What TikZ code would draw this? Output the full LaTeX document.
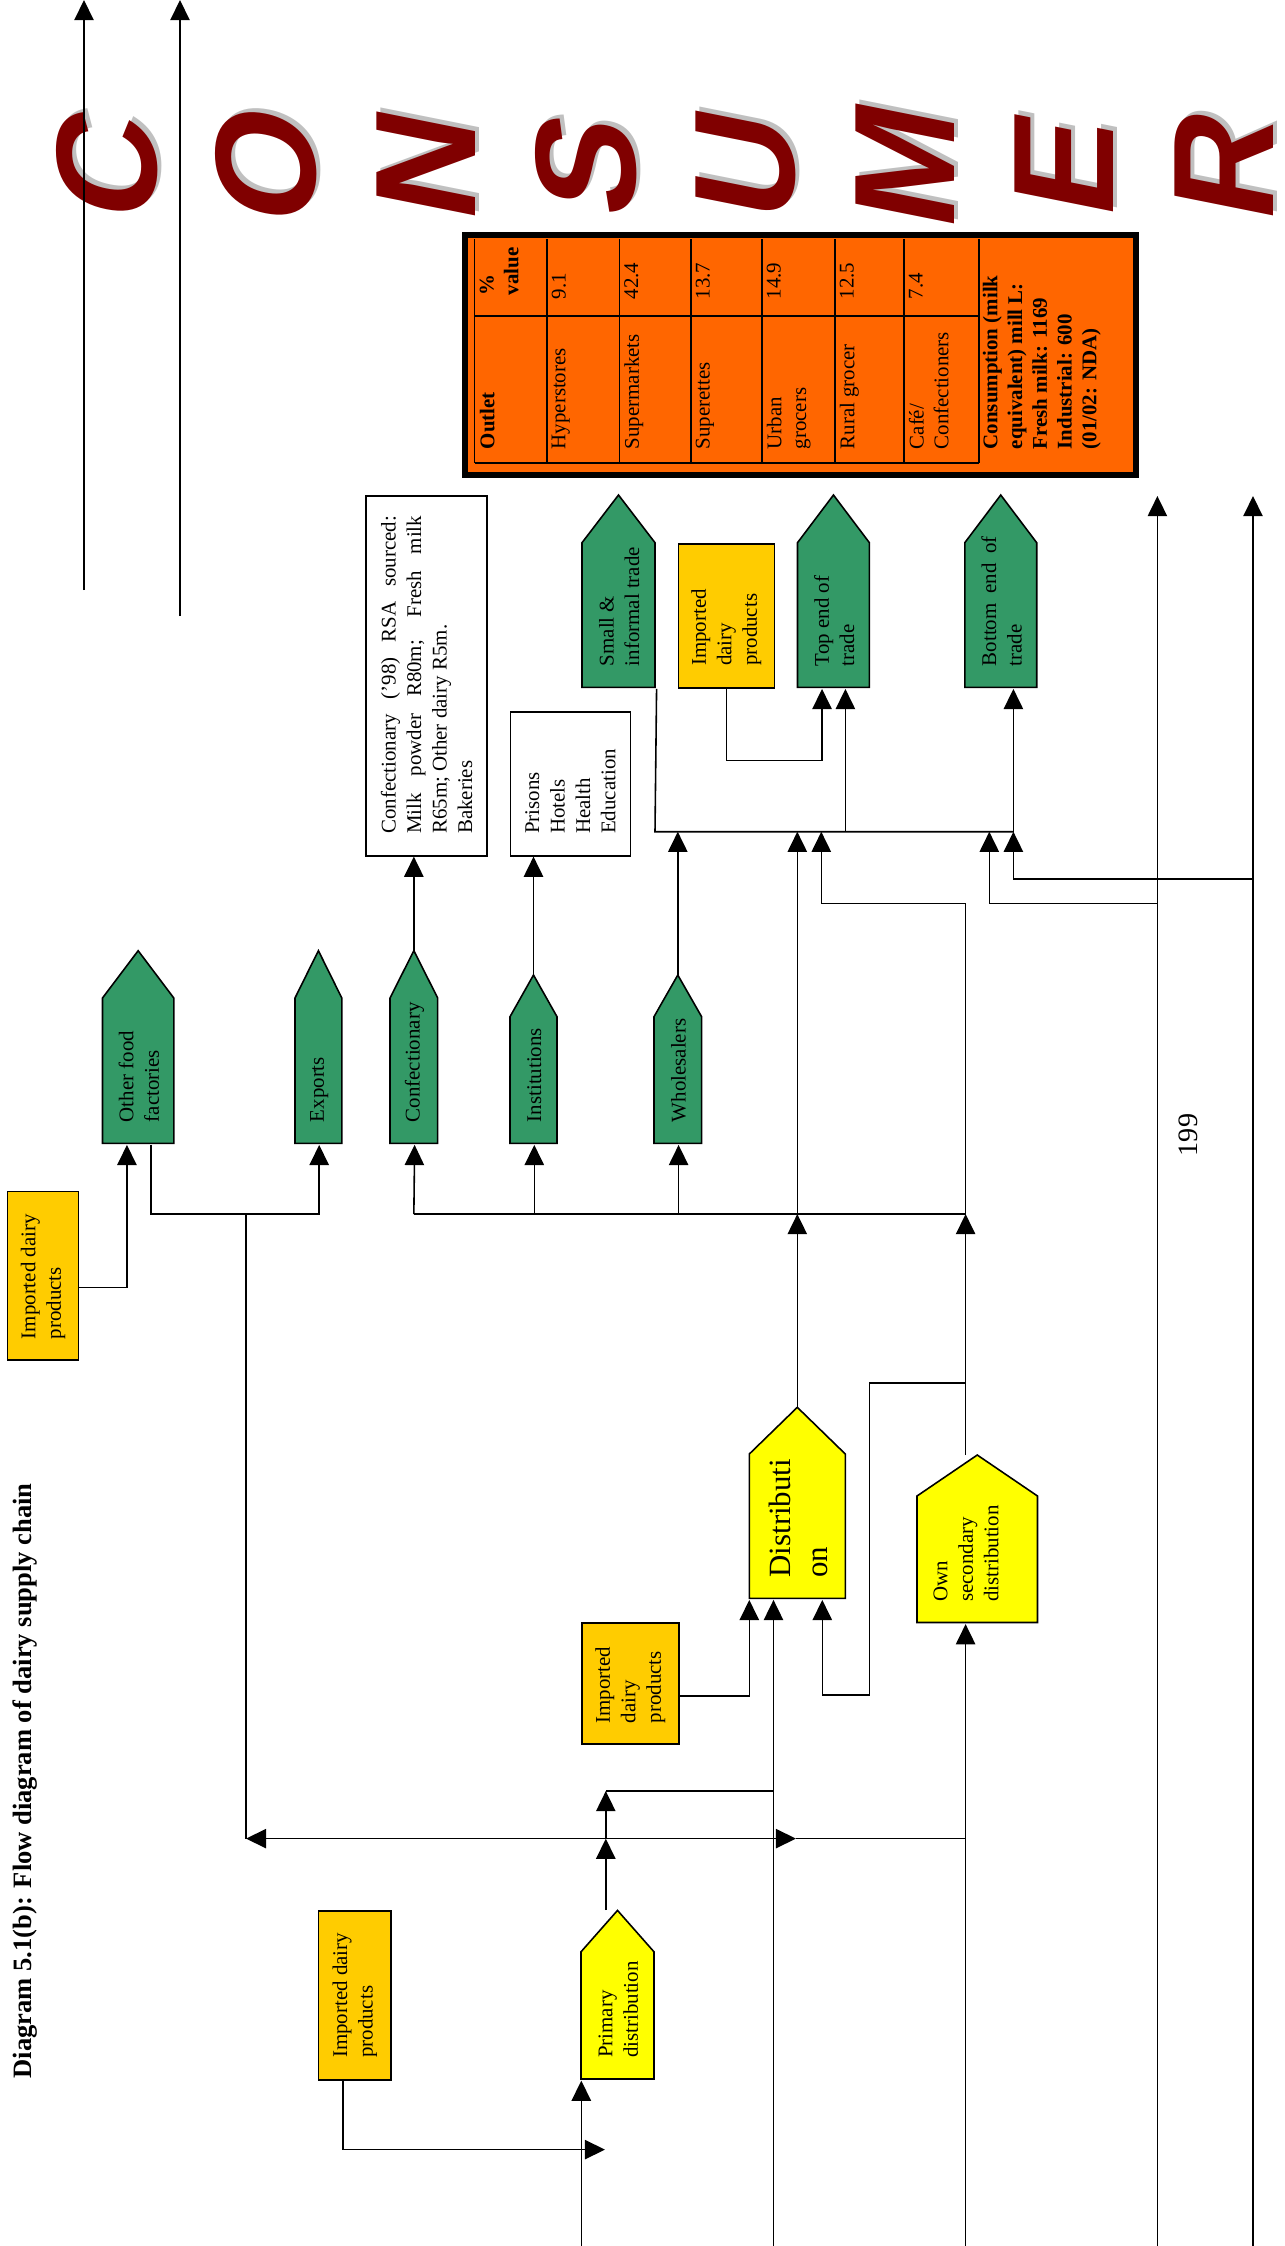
\documentclass[tikz,border=0pt]{standalone}
\usepackage{fontspec}
\setmainfont{Liberation Serif}
\newfontfamily\wordartfont{Liberation Sans}
\usetikzlibrary{arrows.meta,calc}

\definecolor{tradegreen}{HTML}{339966}
\definecolor{outletorange}{HTML}{FF6600}
\definecolor{importgold}{HTML}{FFCC00}
\definecolor{distyellow}{HTML}{FFFF00}
\definecolor{wordred}{HTML}{800000}
\definecolor{wordgrey}{HTML}{C0C0C0}

\newcommand\roofbox[7]{%
  \path[#7] (#2,#6) -- (#2,#5) -- ({(#2+#3)/2},#4) -- (#3,#5) -- (#3,#6) -- cycle;
  \node[inner sep=0pt,minimum width={(#3-#2)*0.02cm},minimum height={(#6-#5)*0.02cm},anchor=north west] (#1) at (#2,#5) {};
  \coordinate (#1-tip) at ({(#2+#3)/2},#4);
}
\newcommand\flatbox[6]{%
  \node[#6,inner sep=0pt,minimum width={(#4-#2)*0.02cm},minimum height={(#5-#3)*0.02cm},anchor=north west] (#1) at (#2,#3) {};
}

\begin{document}
\begin{tikzpicture}[x=0.02cm,y=-0.02cm,line width=0.9pt,>={Triangle[length=11.5pt,width=11pt]},
  greenroof/.style={draw,fill=tradegreen},
  yellowroof/.style={draw,fill=distyellow},
  importbox/.style={draw,fill=importgold},
  notebox/.style={draw,fill=white},
  lbl/.style={rotate=90,inner sep=0pt,align=left,anchor=west,font=\fontsize{11.9}{14.5}\selectfont},
  cell/.style={rotate=90,inner sep=0pt,align=left,anchor=north west,font=\fontsize{11.9}{14.1}\selectfont},
  letter/.style={yslant=-0.2,rotate=90,inner sep=0pt,font=\wordartfont\bfseries\fontsize{81.6}{82}\selectfont}]
  \useasboundingbox (0,0) rectangle (1285,2246);

  \foreach \ch [count=\i from 0] in {C,O,N,S,U,M,E,R}{
    \node[letter,text=wordgrey] (shade\i) at ({111+159.6*\i},160) {\ch};
    \node[letter,text=wordred] (word\i) at ({107+159.6*\i},164) {\ch};
  }

  \coordinate (leftA) at (84,590);
  \coordinate (leftA-end) at (84,0);
  \coordinate (leftB) at (180,616);
  \coordinate (leftB-end) at (180,0);
  \draw[->] (leftA) -- (leftA-end);
  \draw[->] (leftB) -- (leftB-end);

  \flatbox{outlets}{462}{232}{1133}{472}{draw,fill=outletorange,line width=3.4pt}
  \foreach \x in {474.8,547,619.5,691,762,835,904,979} \draw[line width=0.6pt] (\x,239) -- (\x,463);
  \draw[line width=0.6pt] (474.8,316) -- (979,316) (474.8,463) -- (979,463);
  \node[cell,font=\fontsize{11.9}{14.1}\selectfont\bfseries] (outlet-head) at (479,450) {Outlet};
  \node[cell,font=\fontsize{11.9}{14.1}\selectfont\bfseries] (value-head) at (479,296) {\%\\value};
  \foreach \x/\outlet/\val [count=\i] in {547/Hyperstores/9.1, 619.5/Supermarkets/42.4, 691/Superettes/13.7, 762/{Urban\\grocers}/14.9, 835/Rural grocer/12.5, 904/{Café/\\Confectioners}/7.4}{
    \node[cell] (outlet\i) at (\x+4,450) {\outlet};
    \node[cell] (value\i) at (\x+4,300) {\val};
  }
  \node[cell,font=\fontsize{11.9}{14.1}\selectfont\bfseries] (usage) at (982,450) {Consumption (milk\\equivalent) mill L:\\Fresh milk: 1169\\Industrial: 600\\(01/02: NDA)};

  \roofbox{smalltrade}{582}{655}{495}{542.7}{687.3}{greenroof}
  \flatbox{impT}{677.5}{543}{773.5}{687}{importbox}
  \roofbox{topend}{797.5}{869.4}{495}{542.7}{687.3}{greenroof}
  \roofbox{botend}{964.8}{1036.7}{495}{542.7}{687.3}{greenroof}
  \flatbox{confnote}{365.3}{495}{486.2}{855}{notebox}
  \flatbox{prisons}{509.7}{711}{629.6}{855}{notebox}
  \node[lbl] (smalltrade-txt) at ($(smalltrade.south)+(0,-22)$) {Small \&\\informal trade};
  \node[lbl] (impT-txt) at ($(impT.south)+(0,-22)$) {Imported\\dairy\\products};
  \node[lbl] (topend-txt) at ($(topend.south)+(0,-22)$) {Top end of\\trade};
  \node[lbl,text width=2.6cm,align=justify] (botend-txt) at ($(botend.south)+(0,-22)$) {Bottom end of trade};
  \node[lbl,text width=6.36cm,align=justify] (confnote-txt) at ($(confnote.south)+(0,-22)$) {Confectionary (’98) RSA sourced: Milk powder R80m; Fresh milk R65m; Other dairy R5m.\\Bakeries};
  \node[lbl] (prisons-txt) at ($(prisons.south)+(0,-22)$) {Prisons\\Hotels\\Health\\Education};

  \roofbox{ofood}{102.5}{173.8}{950.7}{998}{1143.3}{greenroof}
  \roofbox{exports}{295}{341.8}{950.7}{998}{1143.3}{greenroof}
  \roofbox{confy}{390}{437.7}{950.7}{998}{1143.3}{greenroof}
  \roofbox{inst}{510}{557}{975}{1016.7}{1143.3}{greenroof}
  \roofbox{whole}{654}{701.6}{975}{1016.7}{1143.3}{greenroof}
  \flatbox{impL}{6.6}{1190.7}{77.9}{1359.3}{importbox}
  \node[lbl] (ofood-txt) at ($(ofood.south)+(0,-22)$) {Other food\\factories};
  \node[lbl] (exports-txt) at ($(exports.south)+(0,-22)$) {Exports};
  \node[lbl] (confy-txt) at ($(confy.south)+(0,-22)$) {Confectionary};
  \node[lbl] (inst-txt) at ($(inst.south)+(0,-22)$) {Institutions};
  \node[lbl] (whole-txt) at ($(whole.south)+(0,-22)$) {Wholesalers};
  \node[lbl] (impL-txt) at ($(impL.south)+(0,-21)$) {Imported dairy\\products};

  \roofbox{dist}{749.3}{845.3}{1407.3}{1454}{1598.3}{yellowroof}
  \roofbox{own}{917}{1037.5}{1455}{1496}{1622.5}{yellowroof}
  \roofbox{prim}{581}{654}{1910.4}{1951.8}{2079}{yellowroof}
  \flatbox{impM}{581}{1622}{678}{1743}{importbox}
  \flatbox{impB}{317.9}{1910}{390.2}{2079}{importbox}
  \node[lbl,font=\fontsize{17.6}{21}\selectfont] (dist-txt) at ($(dist.south)+(0,-21.6)$) {Distributi\\on};
  \node[lbl] (own-txt) at ($(own.south)+(-12,-21.5)$) {Own\\secondary\\distribution};
  \node[lbl] (prim-txt) at ($(prim.south)+(0,-22)$) {Primary\\distribution};
  \node[lbl] (impM-txt) at ($(impM.south)+(0,-20.5)$) {Imported\\dairy\\products};
  \node[lbl] (impB-txt) at ($(impB.south)+(0,-22)$) {Imported dairy\\products};

  \node[rotate=90,anchor=west,inner sep=0pt,font=\fontsize{15.1}{18}\selectfont\bfseries] (caption) at (25,2079) {Diagram 5.1(b): Flow diagram of dairy supply chain};
  \node[rotate=90,inner sep=0pt,font=\fontsize{16}{18}\selectfont] (pageno) at (1188.5,1135) {199};

  \coordinate (feedP) at (581.3,2246);
  \coordinate (feedD) at (773.5,2246);
  \coordinate (feedO) at (965.6,2246);
  \coordinate (outA) at (1157.4,2246);
  \coordinate (outA-end) at (1157.4,496);
  \coordinate (outB) at (1253,2246);
  \coordinate (outB-end) at (1253,496);
  \coordinate (tapA) at (1157.4,903.3);
  \coordinate (tapB) at (1253,879);
  \coordinate (ubL) at (655,831.7);
  \coordinate (ubA) at (821.3,831.7);
  \coordinate (ubT) at (845.4,831.7);
  \coordinate (ubB) at (989.3,831.7);
  \coordinate (ubR) at (1013.4,831.7);
  \coordinate (lbL) at (413.85,1214);
  \coordinate (lbR) at (965.6,1214);
  \coordinate (llb) at (246,1214);
  \coordinate (bb) at (246,1838.6);
  \coordinate (bbm) at (796,1838.6);
  \coordinate (ownup) at (965.6,1455);
  \coordinate (ownloop) at (965.6,1383);
  \coordinate (pup) at (605.8,1910);
  \coordinate (pj) at (605.8,1791);
  \coordinate (primin) at (605,2149.6);

  \draw[->] (outA) -- (outA-end);
  \draw[->] (outB) -- (outB-end);
  \draw (smalltrade.south east) -- (ubL) -- (ubR);
  \draw[->] (ubT) -- (ubT |- topend.south);
  \draw[->] (ubR) -- (ubR |- botend.south);
  \draw[->] (impT.south) -- ++(0,72) -| ($(topend.south)+(-12.2,0)$);
  \draw[->] (whole-tip) -- (whole-tip |- ubL);
  \draw[->] (confy-tip) -- (confy-tip |- confnote.south);
  \draw[->] (inst-tip) -- (inst-tip |- prisons.south);
  \draw[->] (tapA) -| (ubB);
  \draw[->] (tapB) -| (ubR);

  \draw (lbL) -- (lbR);
  \draw[->] (lbL) -- (confy.south);
  \draw[->] (inst.south |- lbL) -- (inst.south);
  \draw[->] (whole.south |- lbL) -- (whole.south);
  \draw[->] (dist-tip) -- (dist-tip |- lbL);
  \draw[->] (dist-tip |- lbL) -- (dist-tip |- ubL);
  \draw[->] (ownup) -- (lbR);
  \draw[->] (lbR) -- ++(0,-310.7) -| (ubA);

  \draw[->] ($(ofood.south)+(12,0)$) |- (exports.south |- llb) -- (exports.south);
  \draw (llb) -- (bb);
  \draw[->] ($(impL.east)+(0,11.7)$) -| ($(ofood.south)+(-12,0)$);

  \draw[->] (feedP) -- (feedP |- prim.south);
  \draw[->] (feedD) -- (feedD |- dist.south);
  \draw[->] (feedO) -- (feedO |- own.south);
  \draw[->] (pup) -- (pup |- bb);
  \draw[->] (pup |- bb) -- (pj);
  \draw (pj) -- (pj -| feedD);
  \draw[->] (pup |- bb) -- (bb);
  \draw[->] (pup |- bb) -- (bbm);
  \draw (bbm) -- (bbm -| feedO);
  \draw[->] ($(impB.south)+(-12,0)$) |- (primin);
  \draw[->] ($(impM.east)+(0,12.5)$) -| (dist.south west);
  \draw[->] (ownloop) -| ++(-96,312) -| ($(dist.south)+(24.2,0)$);
\end{tikzpicture}
\end{document}
